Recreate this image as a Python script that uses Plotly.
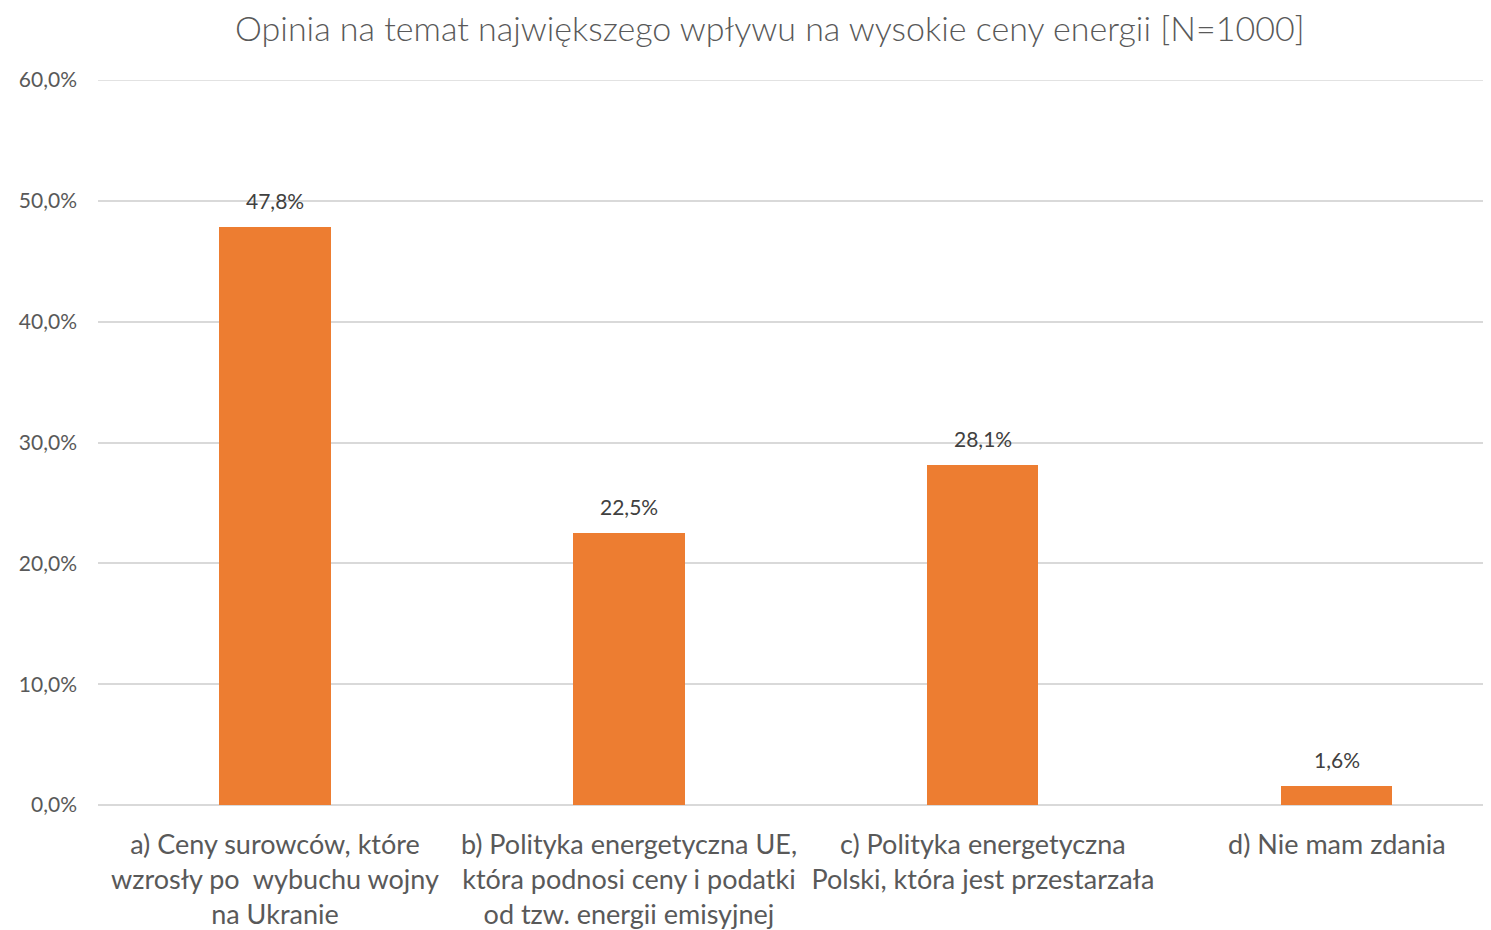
import plotly.graph_objects as go

categories = [
    "a) Ceny surowców, które<br>wzrosły po  wybuchu wojny<br>na Ukranie",
    "b) Polityka energetyczna UE,<br>która podnosi ceny i podatki<br>od tzw. energii emisyjnej",
    "c) Polityka energetyczna<br>Polski, która jest przestarzała",
    "d) Nie mam zdania",
]
values = [47.8, 22.5, 28.1, 1.6]
tick_vals = [0, 10, 20, 30, 40, 50, 60]
tick_text = ["0,0%", "10,0%", "20,0%", "30,0%", "40,0%", "50,0%", "60,0%"]

FONT = "Lato"
GRID = "#D9D9D9"

fig = go.Figure(
    go.Bar(
        x=list(range(len(categories))),
        y=values,
        width=0.314,
        marker=dict(color="#ED7D31", line=dict(width=0)),
        hoverinfo="skip",
    )
)

for i, v in enumerate(values):
    fig.add_annotation(
        x=i, y=v, xref="x", yref="y",
        text=f"{v:.1f}%".replace(".", ","),
        showarrow=False,
        yanchor="bottom",
        yshift=12,
        font=dict(family=FONT, size=21, color="#404040"),
    )

# top gridline (plotly omits the grid line lying on the plot edge)
fig.add_shape(
    type="line", xref="paper", yref="y",
    x0=0, x1=1, y0=tick_vals[-1], y1=tick_vals[-1],
    line=dict(color=GRID, width=1.5),
    layer="below",
)

fig.update_layout(
    width=1491,
    height=930,
    paper_bgcolor="white",
    plot_bgcolor="white",
    margin=dict(l=90, r=0, t=72, b=133),
    title=dict(
        text="Opinia na temat największego wpływu na wysokie ceny energii [N=1000]",
        x=0.511,
        xanchor="center",
        y=0.977,
        yanchor="middle",
        font=dict(family=FONT, size=34, color="#595959", weight=300),
    ),
    showlegend=False,
    bargap=0,
)

fig.update_xaxes(
    tickmode="array",
    tickvals=list(range(len(categories))),
    ticktext=categories,
    range=[-0.5, 3.458],
    showgrid=False,
    showline=False,
    zeroline=False,
    ticks="",
    tickangle=0,
    automargin=False,
    ticklabelstandoff=21,
    tickfont=dict(family=FONT, size=27, color="#595959"),
)

fig.update_yaxes(
    range=[0, 60],
    tickmode="array",
    tickvals=tick_vals,
    ticktext=tick_text,
    showgrid=True,
    gridcolor=GRID,
    gridwidth=1.5,
    zeroline=True,
    zerolinecolor=GRID,
    zerolinewidth=1.5,
    showline=False,
    ticks="",
    automargin=False,
    ticklabelstandoff=20,
    tickfont=dict(family=FONT, size=21, color="#595959"),
)

fig.write_html("out.html")
